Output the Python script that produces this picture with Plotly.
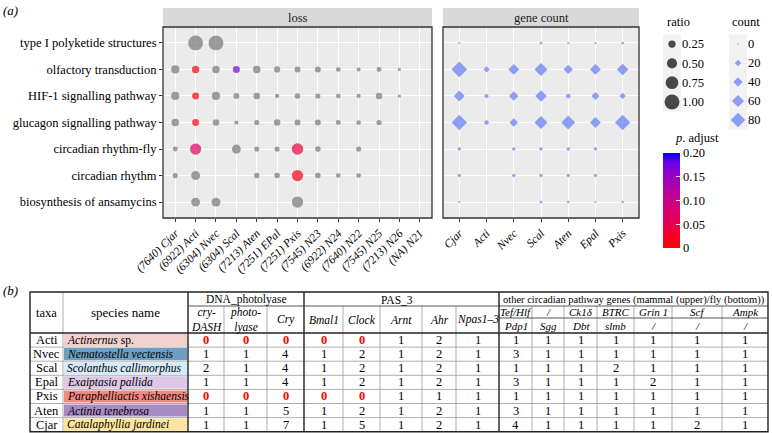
import plotly.graph_objects as go

W, H = 772, 433
FONT = "Liberation Serif"

# ---------------- data: panel (a) ----------------
pathways = ["type I polyketide structures", "olfactory transduction", "HIF-1 signalling pathway",
            "glucagon signalling pathway", "circadian rhythm-fly", "circadian rhythm",
            "biosynthesis of ansamycins"]
loss_taxa = ["(7640) Cjar", "(6922) Acti", "(6304) Nvec", "(6304) Scal", "(7213) Aten", "(7251) EPal",
             "(7251) Pxis", "(7545) N23", "(6922) N24", "(7640) N22", "(7545) N25", "(7213) N26", "(NA) N21"]
ratio_polyketide = [None, 1.00, 1.00, None, None, None, None, None, None, None, None, None, None]
ratio_olfactory = [0.32, 0.26, 0.26, 0.22, 0.26, 0.17, 0.15, 0.15, 0.07, 0.04, 0.09, 0.01, None]
ratio_hif1 = [0.32, 0.22, 0.32, 0.15, 0.19, 0.05, 0.12, 0.10, 0.07, 0.05, 0.19, 0.01, None]
ratio_glucagon = [0.26, 0.22, 0.19, 0.05, 0.10, 0.19, 0.15, 0.15, 0.09, 0.07, 0.10, None, None]
ratio_circ_fly = [0.09, 0.60, None, 0.38, 0.10, 0.10, 0.63, 0.12, None, 0.10, None, None, None]
ratio_circ = [0.10, 0.38, None, None, 0.12, 0.12, 0.60, 0.12, 0.07, 0.07, None, None, None]
ratio_ansamycins = [None, 0.38, 0.38, None, None, None, 0.60, None, None, None, None, None, None]
loss_ratio = [ratio_polyketide, ratio_olfactory, ratio_hif1, ratio_glucagon,
              ratio_circ_fly, ratio_circ, ratio_ansamycins]

N = None
padj_polyketide = [N] * 13
padj_olfactory = [N, 0.01, N, 0.17, N, N, N, N, N, N, N, N, N]
padj_hif1 = [N, 0.01, N, N, N, N, N, N, N, N, N, N, N]
padj_glucagon = [N, 0.01, N, N, N, N, N, N, N, N, N, N, N]
padj_circ_fly = [N, 0.065, N, N, N, N, 0.04, N, N, N, N, N, N]
padj_circ = [N, N, N, N, N, N, 0.01, N, N, N, N, N, N]
padj_ansamycins = [N] * 13
loss_padj = [padj_polyketide, padj_olfactory, padj_hif1, padj_glucagon,
             padj_circ_fly, padj_circ, padj_ansamycins]

count_taxa = ["Cjar", "Acti", "Nvec", "Scal", "Aten", "Epal", "Pxis"]
count_polyketide = [1, N, N, 4, 1, 1, 3]
count_olfactory = [90, 19, 50, 67, 39, 50, 56]
count_hif1 = [50, 11, 39, 56, 15, 29, 19]
count_glucagon = [86, 15, 33, 67, 74, 50, 86]
count_circ_fly = [7, N, 7, 7, 7, 7, N]
count_circ = [7, N, 7, 7, 7, 7, N]
count_ansamycins = [1, N, N, 4, 3, 1, 3]
gene_count = [count_polyketide, count_olfactory, count_hif1, count_glucagon,
              count_circ_fly, count_circ, count_ansamycins]

ratio_levels = [0.25, 0.50, 0.75, 1.00]
count_levels = [0, 20, 40, 60, 80]
padj_ticks = [0, 0.05, 0.10, 0.15, 0.20]

# ---------------- data: panel (b) ----------------
taxa = ["Acti", "Nvec", "Scal", "Epal", "Pxis", "Aten", "Cjar"]
species_genus = ["Actinernus", "Nematostella vectensis", "Scolanthus callimorphus", "Exaiptasia pallida",
                 "Paraphelliactis xishaensis", "Actinia tenebrosa", "Catalaphyllia jardinei"]
species_suffix = [" sp.", "", "", "", "", "", ""]
species_colors = ["#f2d0cd", "#6d9fc3", "#d3eaf8", "#ddc6e6", "#f08a80", "#a88bc5", "#fbe59f"]
cry_dash = [0, 1, 2, 1, 0, 1, 1]
photolyase = [0, 1, 1, 1, 0, 1, 1]
cry = [0, 4, 4, 4, 0, 5, 7]
bmal1 = [0, 1, 1, 1, 0, 1, 1]
clock = [0, 2, 2, 2, 0, 2, 5]
arnt = [1, 1, 1, 1, 1, 1, 1]
ahr = [2, 2, 2, 2, 1, 2, 2]
npas = [1, 1, 1, 1, 1, 1, 1]
tef_pdp1 = [1, 3, 1, 3, 1, 3, 4]
sgg = [1, 1, 1, 1, 1, 1, 1]
ck1_dbt = [1, 1, 1, 1, 1, 1, 1]
btrc_slmb = [1, 1, 2, 1, 1, 1, 1]
grin1 = [1, 1, 1, 2, 1, 1, 1]
scf = [1, 1, 1, 1, 1, 1, 2]
ampk = [1, 1, 1, 1, 1, 1, 1]
gene_columns = [cry_dash, photolyase, cry, bmal1, clock, arnt, ahr, npas,
                tef_pdp1, sgg, ck1_dbt, btrc_slmb, grin1, scf, ampk]
group_labels = ["DNA_photolyase", "PAS_3", "other circadian pathway genes (mammal (upper)/fly (bottom))"]
single_headers = ["cry-<br>DASH", "photo-<br>lyase", "Cry", "Bmal1", "Clock", "Arnt", "Ahr", "Npas1\u20133"]
upper_headers = ["Tef/Hlf", "/", "Ck1\u03b4", "BTRC", "Grin 1", "Scf", "Ampk"]
lower_headers = ["Pdp1", "Sgg", "Dbt", "slmb", "/", "/", "/"]

# ---------------- styling ----------------
colorscale = [[0, "#ff0000"], [0.25, "#e8004f"], [0.5, "#ca0089"], [0.75, "#9a00c3"],
              [0.9, "#6800e6"], [1, "#0000ff"]]
GRAY_PT = "#767676"
BLUE_PT = "#6479f5"


def ratio_size(r):
    return 2.7 + 12.2 * r ** 0.7


def count_size(c):
    return (2.0 + 13.5 * (c / 88) ** 0.75) / 1.3


def px_x(p):
    return p / W


def px_y(p):
    return (H - p) / H


fig = go.Figure()

# loss panel points
gx, gy, gs, cx, cy, cs, cc = [], [], [], [], [], [], []
for pw, ratios, padjs in zip(pathways, loss_ratio, loss_padj):
    for t, r, q in zip(loss_taxa, ratios, padjs):
        if r is None:
            continue
        if q is None:
            gx.append(t); gy.append(pw); gs.append(ratio_size(r))
        else:
            cx.append(t); cy.append(pw); cs.append(ratio_size(r)); cc.append(q)

fig.add_trace(go.Scatter(x=gx, y=gy, mode="markers", xaxis="x", yaxis="y", cliponaxis=False,
                         marker=dict(size=gs, color=GRAY_PT, line_width=0), hoverinfo="skip"))
fig.add_trace(go.Scatter(
    x=cx, y=cy, mode="markers", xaxis="x", yaxis="y", cliponaxis=False, hoverinfo="skip",
    marker=dict(size=cs, color=cc, cmin=0, cmax=0.2, colorscale=colorscale, line_width=0,
                colorbar=dict(x=px_x(663), xanchor="left", y=px_y(153), yanchor="top",
                              len=95, lenmode="pixels", thickness=17, thicknessmode="pixels",
                              xpad=0, ypad=0, outlinewidth=0,
                              tickvals=padj_ticks, ticktext=["0", "0.05", "0.10", "0.15", "0.20"],
                              ticks="inside", ticklen=4, tickcolor="white",
                              tickfont=dict(family=FONT, size=12.5, color="black")))))

# gene count panel
dx, dy, ds = [], [], []
for pw, counts in zip(pathways, gene_count):
    for t, c in zip(count_taxa, counts):
        if c is None:
            continue
        dx.append(t); dy.append(pw); ds.append(count_size(c))
fig.add_trace(go.Scatter(x=dx, y=dy, mode="markers", xaxis="x2", yaxis="y2", cliponaxis=False,
                         hoverinfo="skip",
                         marker=dict(size=ds, color=BLUE_PT, symbol="diamond", line_width=0)))

# legend keys (drawn on their own axes)
ratio_labels = ["%.2f" % v for v in ratio_levels]
count_labels = [str(v) for v in count_levels]
fig.add_trace(go.Scatter(x=[0] * len(ratio_levels), y=ratio_labels, mode="markers", xaxis="x4", yaxis="y4",
                         marker=dict(size=[ratio_size(v) for v in ratio_levels], color="black", line_width=0),
                         hoverinfo="skip", cliponaxis=False))
fig.add_trace(go.Scatter(x=[0] * len(count_levels), y=count_labels, mode="markers", xaxis="x5", yaxis="y5",
                         marker=dict(size=[count_size(v) for v in count_levels], color=BLUE_PT,
                                     symbol="diamond", line_width=0),
                         hoverinfo="skip", cliponaxis=False))

tick_font = dict(family=FONT, size=12.5, color="black")
panel_y_dom = [px_y(218), px_y(27)]
common_cat = dict(type="category", showgrid=True, gridcolor="white", gridwidth=1.2, zeroline=False,
                  showline=False, ticks="outside", ticklen=3, tickcolor="#333333", tickwidth=1,
                  automargin=False)
hidden = dict(visible=False, automargin=False, fixedrange=True, showgrid=False, zeroline=False)
legend_y = dict(type="category", categoryorder="array", side="right", showgrid=False, zeroline=False,
                showline=False, ticks="", tickfont=tick_font, automargin=False)

layout = dict(
    template="none",
    width=W, height=H, autosize=False, margin=dict(l=0, r=0, t=0, b=0, pad=0, autoexpand=False),
    paper_bgcolor="white", plot_bgcolor="rgba(0,0,0,0)", showlegend=False,
    font=dict(family=FONT, color="black"),
    xaxis=dict(common_cat, domain=[px_x(163), px_x(432)], anchor="y", categoryorder="array",
               categoryarray=loss_taxa, range=[-0.6, len(loss_taxa) - 0.4], tickangle=-45,
               tickvals=loss_taxa, ticktext=["<i>%s</i>" % t for t in loss_taxa],
               tickfont=dict(family=FONT, size=11.5, color="black")),
    yaxis=dict(common_cat, domain=panel_y_dom, anchor="x", categoryorder="array",
               categoryarray=pathways[::-1], range=[-0.6, len(pathways) - 0.4], tickfont=tick_font),
    xaxis2=dict(common_cat, domain=[px_x(443), px_x(639)], anchor="y2", categoryorder="array",
                categoryarray=count_taxa, range=[-0.6, len(count_taxa) - 0.4], tickangle=-45,
                tickvals=count_taxa, ticktext=["<i>%s</i>" % t for t in count_taxa],
                tickfont=dict(family=FONT, size=11.5, color="black")),
    yaxis2=dict(common_cat, domain=panel_y_dom, anchor="x2", categoryorder="array",
                categoryarray=pathways[::-1], range=[-0.6, len(pathways) - 0.4],
                showticklabels=False, ticks=""),
    xaxis3=dict(hidden, domain=[px_x(29), px_x(769)], anchor="y3", range=[-1, 739]),
    yaxis3=dict(hidden, domain=[px_y(432.9), px_y(291)], anchor="x3", range=[140.9, -1]),
    xaxis4=dict(hidden, domain=[px_x(663), px_x(681)], anchor="y4", range=[-1, 1]),
    yaxis4=dict(legend_y, domain=[px_y(111.6), px_y(34.4)], anchor="x4",
                categoryarray=ratio_labels, range=[len(ratio_labels) - 0.5, -0.5]),
    xaxis5=dict(hidden, domain=[px_x(729), px_x(747)], anchor="y5", range=[-1, 1]),
    yaxis5=dict(legend_y, domain=[px_y(129.5), px_y(34.5)], anchor="x5",
                categoryarray=count_labels, range=[len(count_labels) - 0.5, -0.5]),
)

shapes, annotations = [], []


def ann(**kw):
    base = dict(showarrow=False, yanchor="middle", xanchor="center")
    base.update(kw)
    annotations.append(base)


# panel backgrounds, borders, strips
for xa, ya, label in [("x", "y", "loss"), ("x2", "y2", "gene count")]:
    shapes.append(dict(type="rect", xref=xa + " domain", yref=ya + " domain", x0=0, x1=1, y0=0, y1=1,
                       fillcolor="#ebebeb", line_width=0, layer="below"))
    shapes.append(dict(type="rect", xref=xa + " domain", yref=ya + " domain", x0=0, x1=1, y0=0, y1=1,
                       fillcolor="rgba(0,0,0,0)", line=dict(color="#333333", width=1.3), layer="above"))
    shapes.append(dict(type="rect", xref=xa + " domain", yref="paper", x0=0, x1=1, y0=px_y(27), y1=px_y(8),
                       fillcolor="#d9d9d9", line_width=0, layer="below"))
    ann(xref=xa + " domain", yref="paper", x=0.5, y=px_y(17.5), text=label,
        font=dict(family=FONT, size=12.5, color="#1a1a1a"))

# legend key backgrounds and titles
for xa, ya in [("x4", "y4"), ("x5", "y5")]:
    shapes.append(dict(type="rect", xref=xa + " domain", yref=ya + " domain", x0=0, x1=1, y0=0, y1=1,
                       fillcolor="#f2f2f2", line_width=0, layer="below"))
ann(xref="paper", yref="paper", x=px_x(665), y=px_y(22), xanchor="left", text="ratio",
    font=dict(family=FONT, size=12.5))
ann(xref="paper", yref="paper", x=px_x(730), y=px_y(22), xanchor="left", text="count",
    font=dict(family=FONT, size=12.5))
ann(xref="paper", yref="paper", x=px_x(673), y=px_y(138), xanchor="left",
    text="<i>p</i>. adjust", font=dict(family=FONT, size=12.5))
ann(xref="paper", yref="paper", x=px_x(1), y=px_y(10), xanchor="left", text="<i>(a)</i>",
    font=dict(family=FONT, size=13))
ann(xref="paper", yref="paper", x=px_x(1), y=px_y(290), xanchor="left", text="<i>(b)</i>",
    font=dict(family=FONT, size=13))

# ---------------- table (panel b) ----------------
col_w = [33, 125, 36, 43, 37, 39, 37, 42, 34, 43, 33, 32, 33, 37, 38, 50, 46]
edges = [0]
for w in col_w:
    edges.append(edges[-1] + w)
TW = edges[-1]
hdr = [14, 12, 15]
row_h = 14.1
top_data = sum(hdr)
TH = top_data + row_h * len(taxa)
centers = [(edges[i] + edges[i + 1]) / 2 for i in range(len(col_w))]

thick = dict(color="#222222", width=1.4)
thin_dark = dict(color="#444444", width=0.9)
thin = dict(color="#9a9a9a", width=0.8)


def tline(x0, y0, x1, y1, line):
    shapes.append(dict(type="line", xref="x3", yref="y3", x0=x0, y0=y0, x1=x1, y1=y1, line=line, layer="above"))


# species colour cells
for i, colr in enumerate(species_colors):
    y0 = top_data + row_h * i
    shapes.append(dict(type="rect", xref="x3", yref="y3", x0=edges[1] + 1, x1=edges[2] - 1,
                       y0=y0 + 1, y1=y0 + row_h - 1, fillcolor=colr, line_width=0, layer="below"))

for i in range(1, len(taxa)):
    y = top_data + row_h * i
    tline(0, y, TW, y, thin)
tline(edges[1], 0, edges[1], TH, thin)
for k in [3, 4, 6, 7, 8, 9, 11, 12, 13, 14, 15, 16]:
    tline(edges[k], hdr[0], edges[k], TH, thin)
tline(edges[2], hdr[0], TW, hdr[0], thin_dark)
tline(edges[10], hdr[0] + hdr[1], TW, hdr[0] + hdr[1], thin_dark)
tline(0, top_data, TW, top_data, thick)
for k in [2, 5, 10]:
    tline(edges[k], 0, edges[k], TH, thick)
shapes.append(dict(type="rect", xref="x3", yref="y3", x0=0, x1=TW, y0=0, y1=TH,
                   fillcolor="rgba(0,0,0,0)", line=thick, layer="above"))


def ttext(x, y, text, size=11.5, color="black", xanchor="center"):
    ann(xref="x3", yref="y3", x=x, y=y, text=text, xanchor=xanchor,
        font=dict(family=FONT, size=size, color=color))


ttext(centers[0], top_data / 2, "taxa", 12.5)
ttext(centers[1], top_data / 2, "species name", 13)
ttext((edges[2] + edges[5]) / 2, hdr[0] / 2 + 0.5, group_labels[0], 11.5)
ttext((edges[5] + edges[10]) / 2 - 5, hdr[0] / 2 + 0.5, group_labels[1], 11.5)
ttext((edges[10] + edges[17]) / 2, hdr[0] / 2 + 0.5, group_labels[2], 10.5)
for j, lab in enumerate(single_headers):
    ttext(centers[2 + j], hdr[0] + (hdr[1] + hdr[2]) / 2, "<i>%s</i>" % lab, 11.5)
for j, lab in enumerate(upper_headers):
    ttext(centers[10 + j], hdr[0] + hdr[1] / 2, "<i>%s</i>" % lab, 11)
    ttext(centers[10 + j], hdr[0] + hdr[1] + hdr[2] / 2, "<i>%s</i>" % lower_headers[j], 11)

for i in range(len(taxa)):
    yc = top_data + row_h * (i + 0.5)
    ttext(centers[0], yc, taxa[i], 12.5)
    ttext(edges[1] + 2, yc, "<i>%s</i>%s" % (species_genus[i], species_suffix[i]), 11.5, xanchor="left")
    for j, col in enumerate(gene_columns):
        v = col[i]
        if v == 0:
            ttext(centers[2 + j], yc, "<b>0</b>", 12.5, color="#ff0000")
        else:
            ttext(centers[2 + j], yc, str(v), 12.5)

layout["shapes"] = shapes
layout["annotations"] = annotations
fig.update_layout(**layout)
fig.write_html("out.html", config={"displayModeBar": False},
               post_script="document.body.style.margin='0';document.body.style.padding='0';")
